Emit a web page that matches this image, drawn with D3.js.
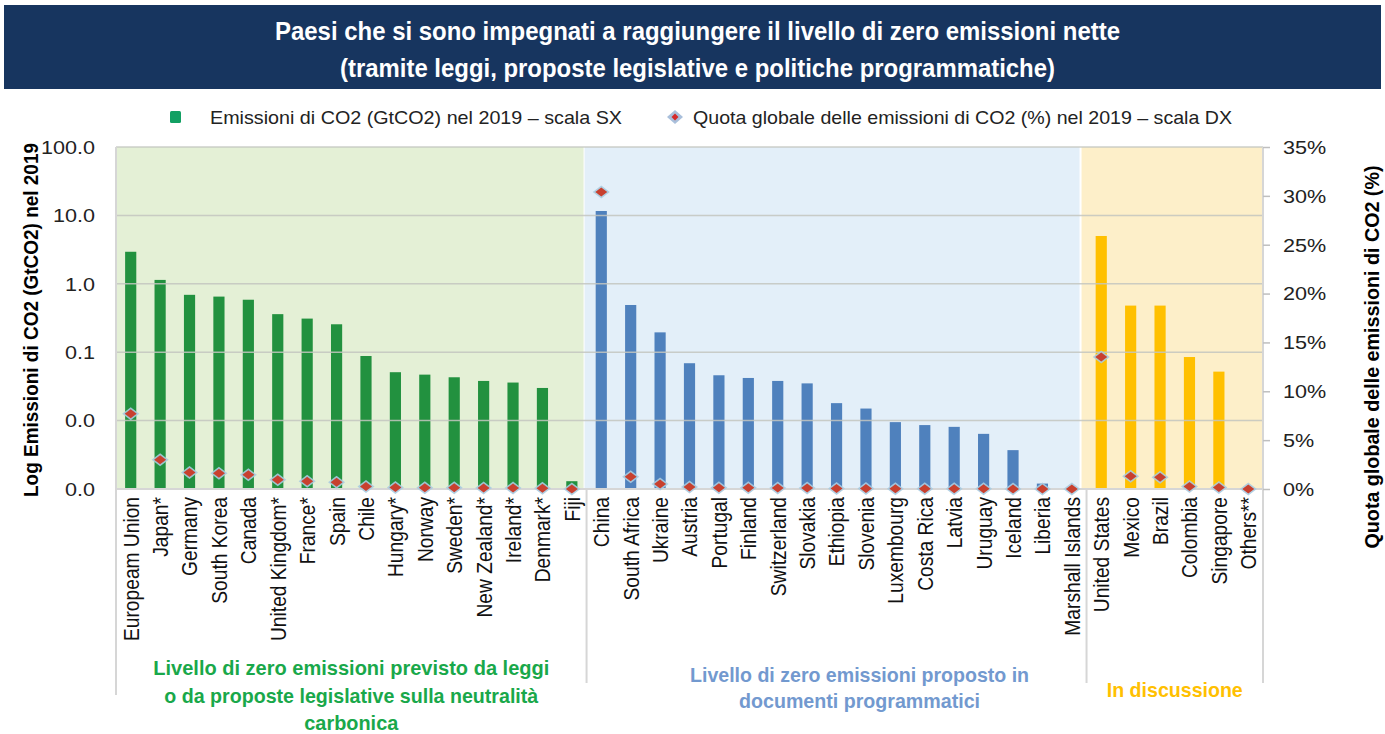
<!DOCTYPE html>
<html>
<head>
<meta charset="utf-8">
<script src="https://cdn.jsdelivr.net/npm/d3@7"></script>
<style>
  body { margin: 0; background: #fff; }
  text { font-family: "Liberation Sans", Arial, sans-serif; }
  .narrow { font-family: "Liberation Sans Narrow", "Arial Narrow", "Liberation Sans", sans-serif; }
</style>
</head>
<body>
<div id="chart"></div>
<script>
// countries, in chart order
var countries = ["Europeam Union","Japan*","Germany","South Korea","Canada","United Kingdom*","France*","Spain","Chile","Hungary*","Norway","Sweden*","New Zealand*","Ireland*","Denmark*","Fiji",
  "China","South Africa","Ukraine","Austria","Portugal","Finland","Switzerland","Slovakia","Ethiopia","Slovenia","Luxembourg","Costa Rica","Latvia","Uruguay","Iceland","Liberia","Marshall Islands",
  "United States","Mexico","Brazil","Colombia","Singapore","Others**"];
// group of each country: 0 = leggi, 1 = documenti programmatici, 2 = in discussione
var groups = [0,0,0,0,0,0,0,0,0,0,0,0,0,0,0,0,
  1,1,1,1,1,1,1,1,1,1,1,1,1,1,1,1,1,
  2,2,2,2,2,2];
// CO2 emissions 2019 (GtCO2) - left log scale
var emissions = [2.94,1.14,0.69,0.65,0.585,0.36,0.31,0.256,0.088,0.051,0.047,0.043,0.038,0.036,0.030,0.0013,
  11.6,0.49,0.195,0.069,0.046,0.042,0.038,0.035,0.018,0.015,0.0095,0.0086,0.0081,0.0064,0.0037,0.0012,0.001,
  5.0,0.48,0.48,0.085,0.052,0.001];
// global share of CO2 emissions 2019 (%) - right scale
var share = [7.7,3.0,1.7,1.6,1.45,0.95,0.8,0.7,0.25,0.15,0.12,0.12,0.1,0.1,0.08,0.01,
  30.4,1.25,0.5,0.2,0.13,0.12,0.11,0.1,0.05,0.04,0.03,0.03,0.02,0.02,0.01,0.003,0.001,
  13.5,1.3,1.2,0.25,0.15,0.0];
var leftTicks = [0.001,0.01,0.1,1,10,100];
var rightTicks = [0,5,10,15,20,25,30,35];
var groupNames = [
  ["Livello di zero emissioni previsto da leggi","o da proposte legislative sulla neutralità","carbonica"],
  ["Livello di zero emissioni proposto in","documenti programmatici"],
  ["In discussione"]
];
var legendLabels = ["Emissioni di CO2 (GtCO2) nel 2019 – scala SX","Quota globale delle emissioni di CO2 (%) nel 2019 – scala DX"];
var titleLines = ["Paesi che si sono impegnati a raggiungere il livello di zero emissioni nette","(tramite leggi, proposte legislative e politiche programmatiche)"];

var W = 1385, H = 734;
var m = {left: 116, right: 122, top: 147, bottom: 245};
var x0 = m.left, x1 = W - m.right, y0 = m.top, y1 = H - m.bottom;
var SX = 1.2; // the picture is stretched horizontally

var barColors = ["#22913f", "#4f81bd", "#ffc000"];
var bgColors = ["#e4f0d6", "#e3eff9", "#fdefc9"];
var groupText = ["#19a84a", "#7299cf", "#ffc000"];

var svg = d3.select("#chart").append("svg")
  .attr("width", W).attr("height", H);

var x = d3.scaleBand().domain(countries).range([x0, x1]).paddingInner(0.62).paddingOuter(0.31);
var y = d3.scaleLog().domain([0.001, 100]).range([y1, y0]).clamp(true);
var yR = d3.scaleLinear().domain([0, 35]).range([y1, y0]);
var step = x.step();

// title band
svg.append("rect").attr("x", 4).attr("y", 5).attr("width", 1377).attr("height", 84).attr("fill", "#17355f");
titleLines.forEach(function(t, i) {
  svg.append("text").attr("class", "narrow")
    .attr("x", W / 2 + 5).attr("y", 40 + i * 37)
    .attr("text-anchor", "middle").attr("fill", "#fff")
    .attr("font-size", 25).attr("font-weight", "bold")
    .attr("textLength", i == 0 ? 845 : 715).attr("lengthAdjust", "spacingAndGlyphs")
    .text(t);
});

// legend
svg.append("rect").attr("x", 170).attr("y", 111).attr("width", 11).attr("height", 12).attr("rx", 1.5).attr("fill", "#12a063");
svg.append("text").attr("class", "narrow").attr("x", 210).attr("y", 124)
  .attr("font-size", 19).attr("fill", "#222").attr("textLength", 412).attr("lengthAdjust", "spacingAndGlyphs")
  .text(legendLabels[0]);
svg.append("path").attr("transform", "translate(675,117)").attr("d", "M-8,0L0,-7L8,0L0,7Z").attr("fill", "#a9bfdb");
svg.append("path").attr("transform", "translate(675,117)").attr("d", "M-3.5,0L0,-3.5L3.5,0L0,3.5Z").attr("fill", "#d42a2a");
svg.append("text").attr("class", "narrow").attr("x", 693).attr("y", 124)
  .attr("font-size", 19).attr("fill", "#222").attr("textLength", 539).attr("lengthAdjust", "spacingAndGlyphs")
  .text(legendLabels[1]);

// group backgrounds
var firstOf = [0, 16, 33], lastOf = [15, 32, 38];
var bgStart = [x0, x(countries[16]) - step * 0.31 - 2, x(countries[33]) - step * 0.31 - 5];
var bgEnd = [x(countries[16]) - step * 0.31 - 3, x(countries[33]) - step * 0.31 - 7, x1];
[0, 1, 2].forEach(function(g) {
  svg.append("rect").attr("x", bgStart[g]).attr("y", y0)
    .attr("width", bgEnd[g] - bgStart[g]).attr("height", y1 - y0)
    .attr("fill", bgColors[g]);
});

// bars
svg.append("g").selectAll("rect").data(countries).enter().append("rect")
  .attr("x", function(d) { return x(d); })
  .attr("y", function(d, i) { return y(emissions[i]); })
  .attr("width", x.bandwidth())
  .attr("height", function(d, i) { return y1 - y(emissions[i]); })
  .attr("fill", function(d, i) { return barColors[groups[i]]; });

// gridlines (drawn over the bars, pale)
svg.append("g").selectAll("line").data(leftTicks.slice(1)).enter().append("line")
  .attr("x1", x0).attr("x2", x1)
  .attr("y1", function(d) { return y(d); }).attr("y2", function(d) { return y(d); })
  .attr("stroke", "#c3c6c0").attr("stroke-opacity", 0.85).attr("stroke-width", 1.5);

// frame lines and group separators
svg.append("line").attr("x1", x0).attr("x2", x1).attr("y1", y1).attr("y2", y1).attr("stroke", "#d6d6d6").attr("stroke-width", 2);
svg.append("line").attr("x1", x0).attr("x2", x0).attr("y1", y0).attr("y2", 695).attr("stroke", "#d6d6d6").attr("stroke-width", 2);
svg.append("line").attr("x1", x1).attr("x2", x1).attr("y1", y0).attr("y2", 683).attr("stroke", "#d6d6d6").attr("stroke-width", 2);
[16, 33].forEach(function(i) {
  var sx = x(countries[i]) - step * 0.31;
  svg.append("line").attr("x1", sx).attr("x2", sx).attr("y1", y1).attr("y2", 683).attr("stroke", "#d6d6d6").attr("stroke-width", 2);
});

// share markers
var mk = svg.append("g").selectAll("g").data(countries).enter().append("g")
  .attr("transform", function(d, i) { return "translate(" + (x(d) + x.bandwidth() / 2) + "," + yR(share[i]) + ")"; });
mk.append("path").attr("d", "M-8.5,0L0,-6.5L8.5,0L0,6.5Z").attr("fill", "#a8cbe0").attr("opacity", 0.9);
mk.append("path").attr("d", "M-6,0L0,-4.5L6,0L0,4.5Z").attr("fill", "#c8402f");

// left axis
var yAxis = svg.append("g").attr("transform", "translate(" + x0 + ",0)")
  .call(d3.axisLeft(y).tickValues(leftTicks).tickFormat(d3.format(".1f")).tickSize(0));
yAxis.select(".domain").remove();
yAxis.selectAll("text").attr("x", -21 / SX).attr("dy", "0.35em")
  .attr("transform", "scale(" + SX + ",1)")
  .attr("font-size", 18).attr("fill", "#222").style("font-family", "Liberation Sans, Arial, sans-serif");

// right axis
var yAxisR = svg.append("g").attr("transform", "translate(" + x1 + ",0)")
  .call(d3.axisRight(yR).tickValues(rightTicks).tickFormat(function(d) { return d + "%"; }).tickSize(7));
yAxisR.select(".domain").remove();
yAxisR.selectAll("line").attr("stroke", "#bfbfbf").attr("stroke-width", 1.5);
yAxisR.selectAll("text").attr("x", 20 / SX).attr("dy", "0.35em")
  .attr("transform", "scale(" + SX + ",1)")
  .attr("font-size", 18).attr("fill", "#222").style("font-family", "Liberation Sans, Arial, sans-serif");

// category labels
svg.append("g").selectAll("text").data(countries).enter().append("text")
  .attr("transform", function(d) { return "translate(" + (x(d) + x.bandwidth() / 2) + "," + (y1 + 8) + ") rotate(-90) scale(1," + 1.18 + ")"; })
  .attr("text-anchor", "end").attr("dy", "0.35em")
  .attr("font-size", 19.2).attr("fill", "#111")
  .text(function(d) { return d; });

// axis titles
svg.append("text").attr("transform", "translate(31,320) rotate(-90)")
  .attr("text-anchor", "middle").attr("dy", "0.35em")
  .attr("font-size", 19.5).attr("font-weight", "bold").attr("fill", "#000")
  .attr("textLength", 354).attr("lengthAdjust", "spacingAndGlyphs")
  .text("Log Emissioni di CO2 (GtCO2) nel 2019");
svg.append("text").attr("transform", "translate(1372,357) rotate(-90)")
  .attr("text-anchor", "middle").attr("dy", "0.35em")
  .attr("font-size", 19.5).attr("font-weight", "bold").attr("fill", "#000")
  .attr("textLength", 383).attr("lengthAdjust", "spacingAndGlyphs")
  .text("Quota globale delle emissioni di CO2 (%)");

// group labels under the axis
var glWidths = [[396, 374, 94], [339, 241], [136]];
var glY = [[675, 703, 730], [682, 708], [697]];
var glShift = [0, 23, 0];
[0, 1, 2].forEach(function(g) {
  var a = x(countries[firstOf[g]]) - step * 0.31, b = x(countries[lastOf[g]]) + x.bandwidth() + step * 0.31;
  groupNames[g].forEach(function(t, j) {
    svg.append("text").attr("class", "narrow")
      .attr("x", (a + b) / 2 + glShift[g]).attr("y", glY[g][j])
      .attr("text-anchor", "middle").attr("fill", groupText[g])
      .attr("font-size", 21).attr("font-weight", "bold")
      .attr("textLength", glWidths[g][j]).attr("lengthAdjust", "spacingAndGlyphs")
      .text(t);
  });
});
</script>
</body>
</html>
